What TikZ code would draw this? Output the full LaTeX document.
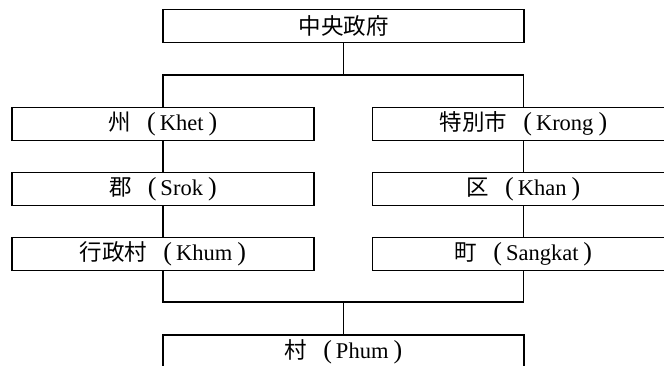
\documentclass[tikz,border=0pt]{standalone}
\usepackage{fontspec}
\setmainfont{Liberation Serif}
\newfontfamily\cjk{Noto Sans CJK JP}
\newcommand\orgpar[1]{{\fontsize{26}{26}\selectfont #1}}
\newcommand\orglab[2]{{\cjk #1}\hspace{16pt}\orgpar{(}\hspace{4pt}#2\hspace{5pt}\orgpar{)}\hspace{10pt}}
\begin{document}
\begin{tikzpicture}[x=1pt,y=-1pt,
  unit/.style={draw,line width=1.5pt,minimum height=33pt,inner sep=0pt,font=\fontsize{22.5}{22.5}\selectfont},
  wide/.style={unit,minimum width=361pt},
  side/.style={unit,minimum width=302pt},
  link/.style={line width=1.5pt}]
\useasboundingbox (0,0) rectangle (664,365);
\clip (0,0) rectangle (664,365);
\node[wide] (top) at (343.5,26) {{\cjk 中央政府}};
\node[side] (l1) at (163,124) {\orglab{州}{Khet}};
\node[side] (l2) at (163,189) {\orglab{郡}{Srok}};
\node[side] (l3) at (163,254) {\orglab{行政村}{Khum}};
\node[side] (r1) at (523.5,124) {\orglab{特別市}{Krong}};
\node[side] (r2) at (523.5,189) {\orglab{区}{Khan}};
\node[side] (r3) at (523.5,254) {\orglab{町}{Sangkat}};
\node[wide] (bot) at (343.5,351.5) {\orglab{村}{Phum}};
\coordinate (busT) at (343.5,75);
\coordinate (busB) at (343.5,302);
\draw[link] (top.south) -- (busT);
\draw[link] (l1.north) |- (busT) -| (r1.north);
\draw[link] (l1) -- (l2);
\draw[link] (l2) -- (l3);
\draw[link] (r1) -- (r2);
\draw[link] (r2) -- (r3);
\draw[link] (l3.south) |- (busB) -| (r3.south);
\draw[link] (busB) -- (bot.north);
\end{tikzpicture}
\end{document}
